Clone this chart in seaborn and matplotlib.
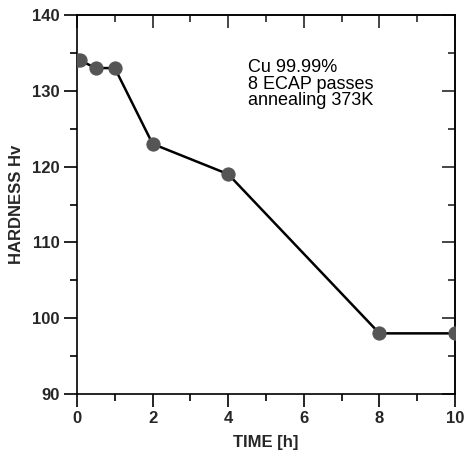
import matplotlib
matplotlib.use("Agg")
import matplotlib.pyplot as plt
import seaborn as sns
import pandas as pd
from matplotlib.ticker import MultipleLocator

time_h = [0, 0.08, 0.5, 1, 2, 4, 8, 10]
hardness = [134, 134, 133, 133, 123, 119, 98, 98]
annotation_lines = ["Cu 99.99%", "8 ECAP passes", "annealing 373K"]

sns.set_theme(style="white")
plt.rcParams['font.family'] = ['Liberation Sans', 'DejaVu Sans']

df = pd.DataFrame({"TIME [h]": time_h, "HARDNESS Hv": hardness})

fig = plt.figure(figsize=(4.65, 4.59), dpi=100)
ax = fig.add_axes([0.1656, 0.1416, 0.8129, 0.8257])

sns.lineplot(data=df, x="TIME [h]", y="HARDNESS Hv", ax=ax, color="black",
             linewidth=1.8, marker="o", markersize=9.5, markerfacecolor="#555555",
             markeredgecolor="#555555", sort=False, zorder=3)

ax.set_xlim(0, 10)
ax.set_ylim(90, 140)
ax.xaxis.set_major_locator(MultipleLocator(2))
ax.xaxis.set_minor_locator(MultipleLocator(1))
ax.yaxis.set_major_locator(MultipleLocator(10))
ax.yaxis.set_minor_locator(MultipleLocator(5))

ax.tick_params(which='major', direction='out', length=9.5, width=1.2, color='black',
               labelsize=12, pad=3, bottom=True, left=True)
ax.tick_params(which='minor', direction='out', length=5, width=1.2, color='black',
               bottom=True, left=True)
for lbl in ax.get_xticklabels() + ax.get_yticklabels():
    lbl.set_fontweight('bold')

for side in ['top', 'right', 'bottom', 'left']:
    ax.spines[side].set_visible(True)
    ax.spines[side].set_color('black')
    ax.spines[side].set_linewidth(1.2)

secx = ax.secondary_xaxis('top')
secx.xaxis.set_major_locator(MultipleLocator(2))
secx.xaxis.set_minor_locator(MultipleLocator(1))
secx.tick_params(which='major', direction='in', length=9.5, width=1.2, labeltop=False)
secx.tick_params(which='minor', direction='in', length=5, width=1.2)
secx.spines['top'].set_linewidth(1.2)

secy = ax.secondary_yaxis('right')
secy.yaxis.set_major_locator(MultipleLocator(10))
secy.yaxis.set_minor_locator(MultipleLocator(5))
secy.tick_params(which='major', direction='in', length=9.5, width=1.2, labelright=False)
secy.tick_params(which='minor', direction='in', length=5, width=1.2)
secy.spines['right'].set_linewidth(1.2)

ax.set_xlabel("TIME [h]", fontsize=12, fontweight='bold', labelpad=6)
ax.set_ylabel("HARDNESS Hv", fontsize=12, fontweight='bold', labelpad=6)

ax.text(4.52, 134.2, "\n".join(annotation_lines), fontsize=13, va='top', ha='left',
        linespacing=0.97, color='black')

fig.savefig("out.png", dpi=100)
